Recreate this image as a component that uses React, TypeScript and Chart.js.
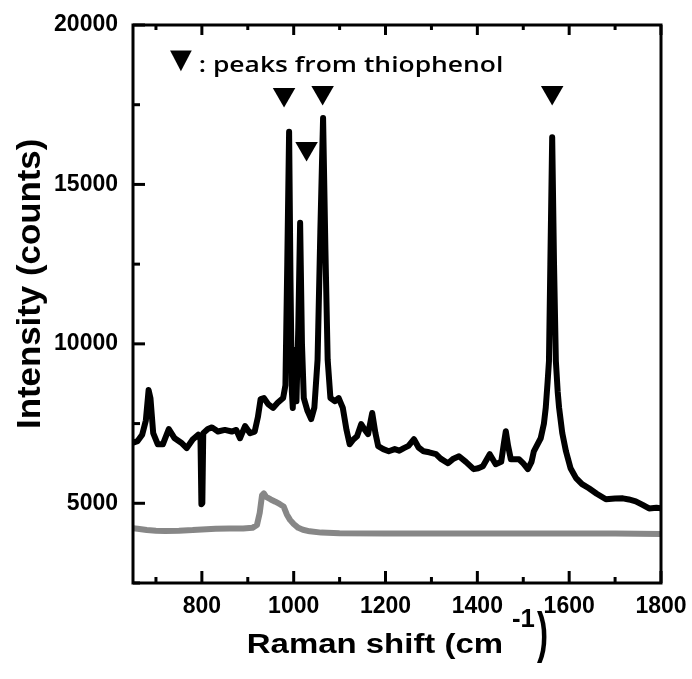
import { useEffect, useRef } from "react";
import { Chart, registerables } from "chart.js";

Chart.register(...registerables);

// ---- data ----
const blackShift = [
  650, 660, 670, 678, 684, 688, 694, 704, 715, 728, 740, 755, 767, 780, 792, 797, 799, 801, 803, 813,
  822, 835, 850, 865, 875, 883, 894, 905, 915, 922, 928, 935, 945, 955, 965, 977, 982, 986, 990, 993,
  996, 998, 1002, 1006, 1010, 1014, 1018, 1022, 1030, 1038, 1045, 1052, 1058, 1064, 1069, 1074, 1080,
  1090, 1098, 1107, 1115, 1122, 1130, 1138, 1147, 1155, 1162, 1171, 1178, 1184, 1195, 1207, 1220, 1230,
  1240, 1250, 1262, 1272, 1283, 1295, 1310, 1320, 1336, 1348, 1360, 1375, 1392, 1402, 1412, 1427, 1440,
  1452, 1458, 1462, 1467, 1473, 1491, 1500, 1510, 1518, 1523, 1538, 1545, 1549, 1553, 1556, 1559, 1563,
  1567, 1571, 1575, 1578, 1585, 1593, 1603, 1615, 1628, 1643, 1660, 1680, 1700, 1717, 1730, 1745, 1760,
  1774, 1790, 1800,
];
const blackIntensity = [
  6900, 6950, 7150, 7600, 8550, 8300, 7200, 6850, 6850, 7330, 7050, 6900, 6730, 7000, 7150, 7000, 4970, 5000, 7200, 7330,
  7380, 7250, 7300, 7250, 7300, 7040, 7420, 7200, 7250, 7700, 8270, 8300, 8100, 7990, 8150, 8300, 8700, 12500, 16650, 12000,
  8500, 7990, 9800, 8200, 10500, 13800, 10000, 8300, 7900, 7640, 8000, 9500, 13500, 17080, 13000, 9500, 8300,
  8200, 8300, 7990, 7300, 6850, 7000, 7100, 7480, 7300, 7170, 7830, 7200, 6790, 6700, 6633, 6700, 6650,
  6730, 6800, 7010, 6750, 6630, 6600, 6540, 6400, 6256, 6400, 6476, 6300, 6070, 6100, 6160, 6540, 6225,
  6300, 6900, 7260, 6800, 6380, 6380, 6250, 6070, 6300, 6630, 7040, 7500, 8000, 8800, 9460, 12500, 16480,
  12500, 9460, 8500, 8000, 7200, 6630, 6100, 5790, 5600, 5470, 5300, 5125, 5150, 5155, 5120, 5060, 4950,
  4840, 4860, 4840,
];
const grayShift = [
  650, 660, 680, 700, 720, 750, 780, 800, 830, 860, 890, 910, 920, 926, 931, 935, 940, 950, 960, 970,
  978, 985, 992, 1000, 1010, 1020, 1035, 1060, 1100, 1200, 1300, 1400, 1500, 1600, 1700, 1800,
];
const grayIntensity = [
  4220, 4200, 4160, 4140, 4130, 4140, 4160, 4180, 4200, 4210, 4210, 4230, 4320, 4700, 5250, 5310, 5200, 5120, 5050, 4970,
  4900, 4650, 4480, 4350, 4230, 4170, 4120, 4080, 4060, 4050, 4050, 4050, 4050, 4050, 4050, 4040,
];
const peakShift = [979, 1028, 1063, 1563];
const peakLevel = [17820, 16127, 17883, 17883];

const xTickValues = [800, 1000, 1200, 1400, 1600, 1800];
const xMinorValues = [700, 900, 1100, 1300, 1500, 1700];
const yTickValues = [5000, 10000, 15000, 20000];
const yMinorValues = [2500, 7500, 12500, 17500];

const xTitleMain = "Raman shift (cm";
const xTitleSup = "-1";
const xTitleEnd = ")";
const yTitle = "Intensity (counts)";
const noteMarker = "▼";
const noteText = ": peaks from thiophenol";

const ARIAL = '"Liberation Sans", Arial, sans-serif';

// draw text so that its ink fits the box [x0,x1] x [y0,y1]
function fitText(ctx: any, text: string, font: string, x0: number, y0: number, x1: number, y1: number) {
  ctx.save();
  ctx.font = font;
  ctx.textAlign = "left";
  ctx.textBaseline = "alphabetic";
  const m = ctx.measureText(text);
  const w = m.actualBoundingBoxLeft + m.actualBoundingBoxRight;
  const h = m.actualBoundingBoxAscent + m.actualBoundingBoxDescent;
  ctx.translate(x0, y0);
  ctx.scale((x1 - x0) / w, (y1 - y0) / h);
  ctx.fillText(text, m.actualBoundingBoxLeft, m.actualBoundingBoxAscent);
  ctx.restore();
}

// draw text with its ink spanning [x0,x1] horizontally, baseline at y
function fitWidth(ctx: any, text: string, font: string, x0: number, x1: number, y: number) {
  ctx.save();
  ctx.font = font;
  ctx.textAlign = "left";
  ctx.textBaseline = "alphabetic";
  const m = ctx.measureText(text);
  const w = m.actualBoundingBoxLeft + m.actualBoundingBoxRight;
  ctx.translate(x0, y);
  ctx.scale((x1 - x0) / w, 1);
  ctx.fillText(text, m.actualBoundingBoxLeft, 0);
  ctx.restore();
}

const decorPlugin = {
  id: "decor",
  afterDraw(chart: any) {
    const { ctx, chartArea } = chart;
    const { left, right, top, bottom } = chartArea;
    const xs = chart.scales.x;
    const ys = chart.scales.y;
    ctx.save();
    ctx.strokeStyle = "#000";
    ctx.fillStyle = "#000";
    ctx.lineCap = "butt";

    const tick = (x1: number, y1: number, x2: number, y2: number, w: number) => {
      ctx.lineWidth = w;
      ctx.beginPath();
      ctx.moveTo(x1, y1);
      ctx.lineTo(x2, y2);
      ctx.stroke();
    };
    xTickValues.forEach((v) => {
      const p = xs.getPixelForValue(v);
      tick(p, bottom, p, bottom - 12, 3);
      tick(p, top, p, top + 10, 3);
    });
    xMinorValues.forEach((v) => {
      const p = xs.getPixelForValue(v);
      tick(p, bottom, p, bottom - 6, 3);
      tick(p, top, p, top + 5, 3);
    });
    yTickValues.forEach((v) => {
      const p = ys.getPixelForValue(v);
      tick(left, p, left + 12, p, 3);
    });
    yMinorValues.forEach((v) => {
      const p = ys.getPixelForValue(v);
      tick(left, p, left + 7, p, 3);
    });

    // frame
    ctx.lineWidth = 3;
    ctx.strokeRect(left, top, right - left, bottom - top);

    // y title (rotated), ink spanning y 140..427, baseline at x = 40
    ctx.save();
    ctx.font = `bold 34px ${ARIAL}`;
    ctx.textAlign = "left";
    ctx.textBaseline = "alphabetic";
    const my = ctx.measureText(yTitle);
    const myW = my.actualBoundingBoxLeft + my.actualBoundingBoxRight;
    ctx.translate(40, 427);
    ctx.rotate(-Math.PI / 2);
    ctx.scale(287 / myW, 1);
    ctx.fillText(yTitle, my.actualBoundingBoxLeft, 0);
    ctx.restore();

    // x title with superscript
    fitWidth(ctx, xTitleMain, `bold 28px ${ARIAL}`, 248, 502, 653);
    fitText(ctx, xTitleSup, `bold 25px ${ARIAL}`, 512, 608, 535, 627);
    fitText(ctx, xTitleEnd, `bold 30px ${ARIAL}`, 537, 610, 547, 662);

    // annotation
    fitText(ctx, noteMarker, `40px "DejaVu Sans", sans-serif`, 170, 50, 192, 71);
    fitWidth(ctx, noteText, `600 22px "Open Sans", sans-serif`, 200, 502, 72);

    ctx.restore();
  },
};

export default function App() {
  const ref = useRef<HTMLCanvasElement | null>(null);

  useEffect(() => {
    if (!ref.current) return;
    const black = blackShift.map((x, i) => ({ x, y: blackIntensity[i] }));
    const gray = grayShift.map((x, i) => ({ x, y: grayIntensity[i] }));
    const peaks = peakShift.map((x, i) => ({ x, y: peakLevel[i] }));
    const tickFont = { family: ARIAL, size: 23, weight: "bold" as const };

    const chart = new Chart(ref.current, {
      type: "line",
      data: {
        datasets: [
          {
            data: peaks,
            showLine: false,
            pointStyle: "triangle",
            rotation: 180,
            pointRadius: 13,
            pointBackgroundColor: "#000",
            pointBorderWidth: 0,
            borderColor: "#000",
          },
          {
            data: black,
            borderColor: "#000",
            borderWidth: 6,
            pointRadius: 0,
            tension: 0,
            borderJoinStyle: "round",
            borderCapStyle: "round",
          },
          {
            data: gray,
            borderColor: "#878787",
            borderWidth: 6,
            pointRadius: 0,
            tension: 0,
            borderJoinStyle: "round",
          },
        ],
      },
      options: {
        animation: false,
        responsive: false,
        events: [],
        layout: { padding: { left: 0, right: 31, top: 25, bottom: 0 } },
        plugins: {
          legend: { display: false },
          tooltip: { enabled: false },
          title: { display: false },
        },
        scales: {
          x: {
            type: "linear",
            min: 650,
            max: 1800,
            afterBuildTicks: (scale: any) => {
              scale.ticks = xTickValues.map((value) => ({ value }));
            },
            afterFit: (scale: any) => {
              scale.height = 96;
              scale.paddingLeft = 0;
              scale.paddingRight = 0;
            },
            grid: { display: false, drawTicks: false, tickLength: 0 },
            border: { display: false },
            ticks: {
              autoSkip: false,
              maxRotation: 0,
              color: "#000",
              font: tickFont,
              padding: 10,
              callback: (v: any) => String(v),
            },
          },
          y: {
            type: "linear",
            min: 2500,
            max: 20000,
            afterBuildTicks: (scale: any) => {
              scale.ticks = yTickValues.map((value) => ({ value }));
            },
            afterFit: (scale: any) => {
              scale.width = 133;
              scale.paddingTop = 0;
              scale.paddingBottom = 0;
            },
            grid: { display: false, drawTicks: false, tickLength: 0 },
            border: { display: false },
            ticks: {
              autoSkip: false,
              color: "#000",
              font: tickFont,
              padding: 15,
              callback: (v: any) => String(v),
            },
          },
        },
      },
      plugins: [decorPlugin],
    });
    return () => chart.destroy();
  }, []);

  return (
    <div style={{ position: "fixed", left: 0, top: 0, width: 692, height: 679, background: "#fff" }}>
      <canvas ref={ref} width={692} height={679} />
    </div>
  );
}
